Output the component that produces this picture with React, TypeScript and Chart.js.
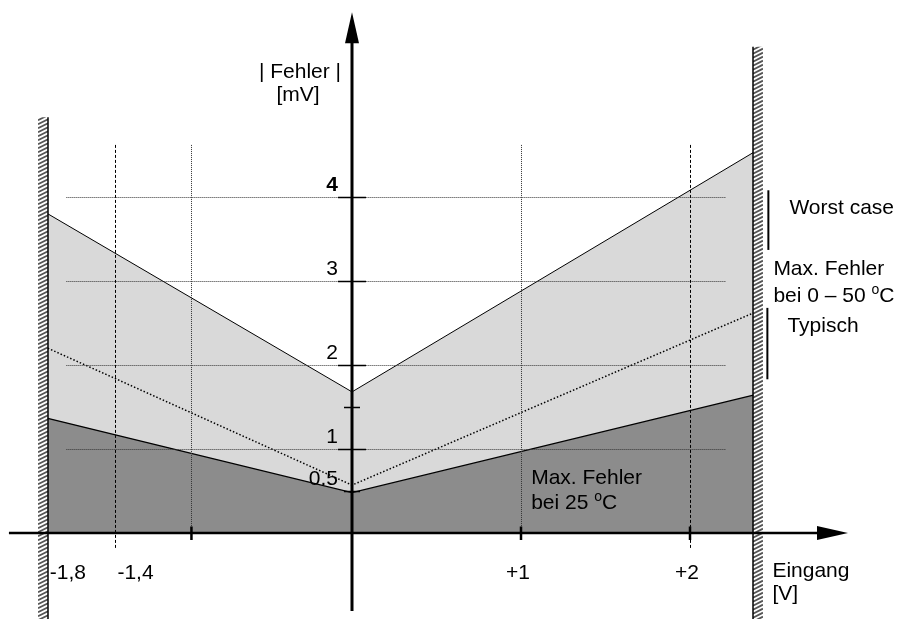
import React, { useEffect, useRef } from "react";
import { Chart, registerables } from "chart.js";

Chart.register(...registerables);

// ---- data ----
const inputX = [-1.8, 0, 2.375];
const worstCase = [3.8, 1.68, 4.53];
const typical = [2.2, 0.57, 2.62];
const at25 = [1.365, 0.48, 1.64];

const yTickValues = [0.5, 1, 1.5, 2, 3, 4];
const yTickLabels = ["0.5", "1", "", "2", "3", "4"];
const xTickValues = [-1.8, -1.4, -0.95, 1, 2];
const xTickLabels = ["-1,8", "-1,4", "", "+1", "+2"];
const xAxisTicks = [-0.95, 1, 2];
const hGridValues = [1, 2, 3, 4];
const vGridDashed = [-1.4, 2];
const vGridDotted = [-0.95, 1];
const wallLeft = -1.8;
const wallRight = 2.375;
const wallLeftTop = 4.95;
const wallRightTop = 5.79;

const X_MIN = -352 / 169;
const X_MAX = (898 - 352) / 169;
const Y_MIN = (533 - 619) / 84;
const Y_MAX = 533 / 84;

const FONT = '"Liberation Sans", Arial, sans-serif';
const FS = 21;

function pts(ys: number[]) {
  return inputX.map((x, i) => ({ x, y: ys[i] }));
}

const diagramPlugin = {
  id: "diagram",
  afterDatasetsDraw(chart: any) {
    const ctx: CanvasRenderingContext2D = chart.ctx;
    const xs = chart.scales.x;
    const ys = chart.scales.y;
    const px = (v: number) => xs.getPixelForValue(v);
    const py = (v: number) => ys.getPixelForValue(v);
    const line = (x1: number, y1: number, x2: number, y2: number) => {
      ctx.beginPath();
      ctx.moveTo(x1, y1);
      ctx.lineTo(x2, y2);
      ctx.stroke();
    };
    ctx.save();

    // horizontal dotted grid
    ctx.strokeStyle = "#333";
    ctx.lineWidth = 1;
    ctx.setLineDash([1, 1]);
    for (const v of hGridValues) {
      const y = Math.round(py(v)) + 0.5;
      line(px(-1.69), y, px(2.21), y);
    }
    // vertical dotted grid
    for (const v of vGridDotted) {
      const x = Math.round(px(v)) + 0.5;
      line(x, py(4.62), x, py(0));
    }
    // vertical dashed grid
    ctx.strokeStyle = "#000";
    ctx.setLineDash([3, 2]);
    for (const v of vGridDashed) {
      const x = Math.round(px(v)) + 0.5;
      line(x, py(4.62), x, py(-0.2));
    }
    ctx.setLineDash([]);

    // hatched walls
    const drawWall = (xv: number, topV: number, side: number) => {
      const edge = Math.round(px(xv));
      const top = py(topV);
      const bottom = chart.height;
      const w = 10;
      const x0 = side < 0 ? edge - w : edge;
      ctx.save();
      ctx.beginPath();
      ctx.rect(x0, top, w, bottom - top);
      ctx.clip();
      ctx.strokeStyle = "#555";
      ctx.lineWidth = 1.8;
      for (let y = top - 6; y < bottom + 6; y += 4) {
        line(x0, y + 5, x0 + w, y);
      }
      ctx.restore();
      ctx.strokeStyle = "#000";
      ctx.lineWidth = 1.5;
      line(edge, top, edge, bottom);
    };
    drawWall(wallLeft, wallLeftTop, -1);
    drawWall(wallRight, wallRightTop, 1);

    // axes
    ctx.strokeStyle = "#000";
    ctx.fillStyle = "#000";
    const x0 = px(0);
    const y0 = py(0);
    ctx.lineWidth = 3;
    const yTip = py(6.2);
    line(x0, py(-0.93), x0, yTip + 20);
    ctx.beginPath();
    ctx.moveTo(x0, yTip);
    ctx.lineTo(x0 - 7, yTip + 31);
    ctx.lineTo(x0 + 7, yTip + 31);
    ctx.closePath();
    ctx.fill();
    ctx.lineWidth = 2.5;
    const xTip = px(2.935);
    line(px(-2.03), y0, xTip - 20, y0);
    ctx.beginPath();
    ctx.moveTo(xTip, y0);
    ctx.lineTo(xTip - 31, y0 - 7);
    ctx.lineTo(xTip - 31, y0 + 7);
    ctx.closePath();
    ctx.fill();

    // y ticks
    ctx.lineWidth = 1.5;
    yTickValues.forEach((v) => {
      const half = v === 0.5 || v === 1.5 ? 8 : 14;
      const y = Math.round(py(v)) + 0.5;
      line(x0 - half, y, x0 + half, y);
    });
    // x ticks
    ctx.lineWidth = 2.5;
    xAxisTicks.forEach((v) => {
      const x = px(v);
      line(x, y0 - 6.5, x, y0 + 7);
    });

    // tick labels
    ctx.textBaseline = "alphabetic";
    yTickValues.forEach((v, i) => {
      if (!yTickLabels[i]) return;
      ctx.font = (v === 4 ? "bold " : "") + FS + "px " + FONT;
      ctx.textAlign = "right";
      ctx.fillText(yTickLabels[i], x0 - 14, py(v) - 6);
    });
    ctx.font = FS + "px " + FONT;
    xTickValues.forEach((v, i) => {
      if (!xTickLabels[i]) return;
      if (v < 0) {
        ctx.textAlign = "left";
        ctx.fillText(xTickLabels[i], px(v) + 2, y0 + 46);
      } else {
        ctx.textAlign = "center";
        ctx.fillText(xTickLabels[i], px(v) - 3, y0 + 46);
      }
    });

    // axis titles
    ctx.textAlign = "center";
    ctx.fillText("| Fehler |", x0 - 52, py(5.42));
    ctx.fillText("[mV]", x0 - 54, py(5.14));
    ctx.textAlign = "left";
    const wr = px(wallRight);
    ctx.fillText("Eingang", wr + 19, y0 + 44);
    ctx.fillText("[V]", wr + 19, y0 + 67);

    // right annotations
    const degText = (pre: string, post: string, x: number, y: number) => {
      ctx.font = FS + "px " + FONT;
      ctx.fillText(pre, x, y);
      let w = ctx.measureText(pre).width;
      ctx.font = "14px " + FONT;
      ctx.fillText("o", x + w, y - 8);
      w += ctx.measureText("o").width;
      ctx.font = FS + "px " + FONT;
      ctx.fillText(post, x + w, y);
    };
    ctx.fillText("Worst case", wr + 36, py(3.8));
    ctx.fillText("Max. Fehler", wr + 20, py(3.07));
    degText("bei 0 \u2013 50 ", "C", wr + 20, py(2.75));
    ctx.fillText("Typisch", wr + 34, py(2.39));
    ctx.lineWidth = 2;
    line(wr + 15, py(4.08), wr + 15, py(3.37));
    line(wr + 14, py(2.68), wr + 14, py(1.83));

    // inner annotation
    ctx.font = FS + "px " + FONT;
    ctx.fillText("Max. Fehler", px(1.06), py(0.58));
    degText("bei 25 ", "C", px(1.06), py(0.29));

    ctx.restore();
  },
};

export default function App() {
  const ref = useRef<HTMLCanvasElement | null>(null);
  useEffect(() => {
    if (!ref.current) return;
    const chart = new Chart(ref.current, {
      type: "line",
      data: {
        datasets: [
          {
            label: "Typisch",
            data: pts(typical),
            borderColor: "#000",
            borderWidth: 1.5,
            borderDash: [1.5, 2],
            pointRadius: 0,
            fill: false,
            tension: 0,
          },
          {
            label: "Max. Fehler bei 25 °C",
            data: pts(at25),
            borderColor: "#000",
            borderWidth: 1.3,
            backgroundColor: "#8c8c8c",
            pointRadius: 0,
            fill: "origin",
            tension: 0,
          },
          {
            label: "Worst case",
            data: pts(worstCase),
            borderColor: "#000",
            borderWidth: 1,
            backgroundColor: "#d9d9d9",
            pointRadius: 0,
            fill: "origin",
            tension: 0,
          },
        ],
      },
      options: {
        animation: false,
        responsive: false,
        devicePixelRatio: 1,
        layout: { padding: 0 },
        plugins: { legend: { display: false }, tooltip: { enabled: false } },
        scales: {
          x: { type: "linear", min: X_MIN, max: X_MAX, display: false },
          y: { type: "linear", min: Y_MIN, max: Y_MAX, display: false },
        },
      },
      plugins: [diagramPlugin],
    } as any);
    return () => chart.destroy();
  }, []);
  return (
    <div style={{ position: "fixed", left: 0, top: 0, width: 898, height: 619, background: "#fff" }}>
      <canvas ref={ref} width={898} height={619} style={{ display: "block" }} />
    </div>
  );
}
